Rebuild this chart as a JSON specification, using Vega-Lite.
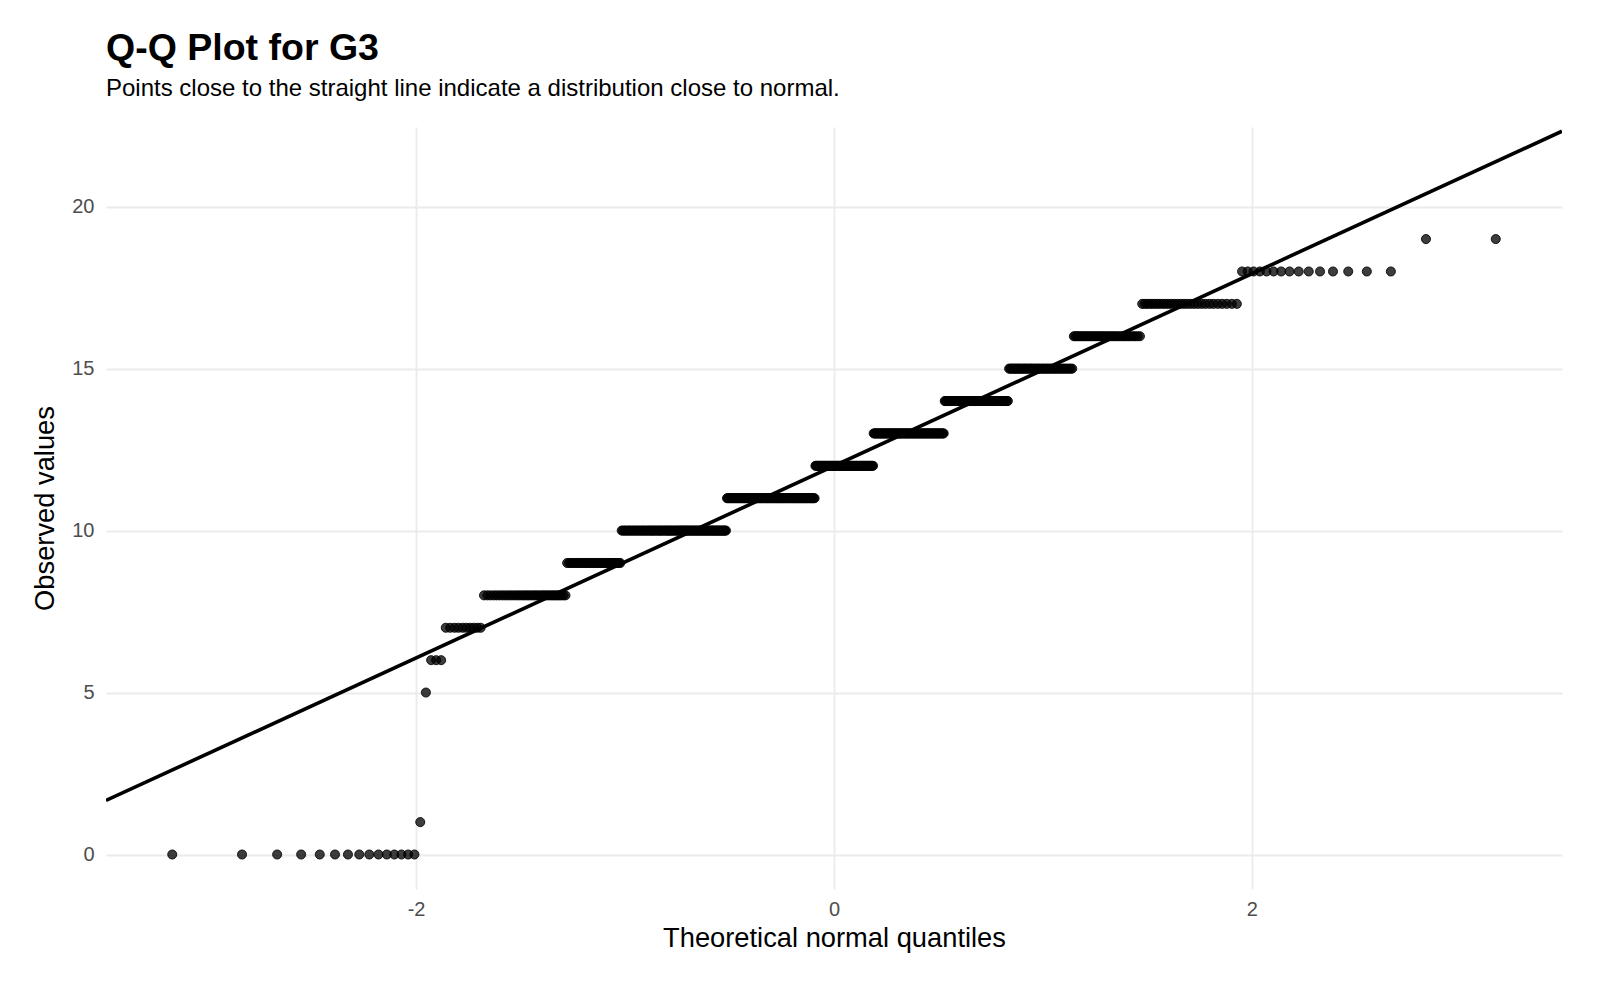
{
  "$schema": "https://vega.github.io/schema/vega-lite/v6.json",
  "width": 1456,
  "height": 762,
  "autosize": {"type": "none"},
  "padding": {"left": 106, "top": 127, "right": 38, "bottom": 95},
  "background": "#ffffff",
  "title": {
    "text": "Q-Q Plot for G3",
    "subtitle": "Points close to the straight line indicate a distribution close to normal.",
    "anchor": "start",
    "frame": "group",
    "font": "Liberation Sans",
    "fontSize": 37.5,
    "fontWeight": "bold",
    "color": "#000000",
    "subtitleFont": "Liberation Sans",
    "subtitleFontSize": 24,
    "subtitleColor": "#000000",
    "subtitlePadding": 10,
    "offset": 26
  },
  "config": {
    "view": {"stroke": null},
    "axis": {
      "grid": true,
      "gridColor": "#EBEBEB",
      "gridWidth": 1.8,
      "domain": false,
      "ticks": false,
      "labelFont": "Liberation Sans",
      "labelFontSize": 20,
      "labelColor": "#4D4D4D",
      "titleFont": "Liberation Sans",
      "titleFontSize": 27.3,
      "titleFontWeight": "normal",
      "titleColor": "#000000"
    }
  },
  "datasets": {
    "qq": [
      {"q":-3.167,"G3":0},{"q":-2.833,"G3":0},{"q":-2.665,"G3":0},{"q":-2.550,"G3":0},{"q":-2.461,"G3":0},
      {"q":-2.388,"G3":0},{"q":-2.326,"G3":0},{"q":-2.272,"G3":0},{"q":-2.224,"G3":0},{"q":-2.180,"G3":0},
      {"q":-2.140,"G3":0},{"q":-2.104,"G3":0},{"q":-2.070,"G3":0},{"q":-2.038,"G3":0},{"q":-2.008,"G3":0},
      {"q":-1.980,"G3":1},
      {"q":-1.953,"G3":5},
      {"q":-1.928,"G3":6},{"q":-1.904,"G3":6},{"q":-1.880,"G3":6},
      {"q":-1.858,"G3":7},{"q":-1.837,"G3":7},{"q":-1.816,"G3":7},{"q":-1.797,"G3":7},{"q":-1.777,"G3":7},
      {"q":-1.759,"G3":7},{"q":-1.741,"G3":7},{"q":-1.724,"G3":7},{"q":-1.707,"G3":7},{"q":-1.691,"G3":7},
      {"q":-1.675,"G3":8},{"q":-1.659,"G3":8},{"q":-1.644,"G3":8},{"q":-1.629,"G3":8},{"q":-1.615,"G3":8},
      {"q":-1.601,"G3":8},{"q":-1.587,"G3":8},{"q":-1.574,"G3":8},{"q":-1.560,"G3":8},{"q":-1.548,"G3":8},
      {"q":-1.535,"G3":8},{"q":-1.522,"G3":8},{"q":-1.510,"G3":8},{"q":-1.498,"G3":8},{"q":-1.486,"G3":8},
      {"q":-1.475,"G3":8},{"q":-1.464,"G3":8},{"q":-1.453,"G3":8},{"q":-1.442,"G3":8},{"q":-1.432,"G3":8},
      {"q":-1.421,"G3":8},{"q":-1.410,"G3":8},{"q":-1.399,"G3":8},{"q":-1.390,"G3":8},{"q":-1.380,"G3":8},
      {"q":-1.370,"G3":8},{"q":-1.360,"G3":8},{"q":-1.350,"G3":8},{"q":-1.340,"G3":8},{"q":-1.331,"G3":8},
      {"q":-1.322,"G3":8},{"q":-1.313,"G3":8},{"q":-1.304,"G3":8},{"q":-1.294,"G3":8},{"q":-1.285,"G3":8},
      {"q":-1.277,"G3":9},{"q":-1.268,"G3":9},{"q":-1.260,"G3":9},{"q":-1.251,"G3":9},{"q":-1.243,"G3":9},
      {"q":-1.234,"G3":9},{"q":-1.226,"G3":9},{"q":-1.218,"G3":9},{"q":-1.210,"G3":9},{"q":-1.202,"G3":9},
      {"q":-1.194,"G3":9},{"q":-1.186,"G3":9},{"q":-1.178,"G3":9},{"q":-1.170,"G3":9},{"q":-1.163,"G3":9},
      {"q":-1.155,"G3":9},{"q":-1.148,"G3":9},{"q":-1.140,"G3":9},{"q":-1.133,"G3":9},{"q":-1.126,"G3":9},
      {"q":-1.118,"G3":9},{"q":-1.111,"G3":9},{"q":-1.104,"G3":9},{"q":-1.097,"G3":9},{"q":-1.090,"G3":9},
      {"q":-1.083,"G3":9},{"q":-1.076,"G3":9},{"q":-1.069,"G3":9},{"q":-1.062,"G3":9},{"q":-1.056,"G3":9},
      {"q":-1.049,"G3":9},{"q":-1.042,"G3":9},{"q":-1.035,"G3":9},{"q":-1.029,"G3":9},{"q":-1.023,"G3":9},
      {"q":-1.016,"G3":10},{"q":-1.010,"G3":10},{"q":-1.003,"G3":10},{"q":-0.997,"G3":10},{"q":-0.990,"G3":10},
      {"q":-0.984,"G3":10},{"q":-0.978,"G3":10},{"q":-0.972,"G3":10},{"q":-0.966,"G3":10},{"q":-0.959,"G3":10},
      {"q":-0.953,"G3":10},{"q":-0.947,"G3":10},{"q":-0.941,"G3":10},{"q":-0.935,"G3":10},{"q":-0.929,"G3":10},
      {"q":-0.923,"G3":10},{"q":-0.917,"G3":10},{"q":-0.912,"G3":10},{"q":-0.906,"G3":10},{"q":-0.900,"G3":10},
      {"q":-0.894,"G3":10},{"q":-0.888,"G3":10},{"q":-0.883,"G3":10},{"q":-0.877,"G3":10},{"q":-0.871,"G3":10},
      {"q":-0.866,"G3":10},{"q":-0.860,"G3":10},{"q":-0.855,"G3":10},{"q":-0.849,"G3":10},{"q":-0.843,"G3":10},
      {"q":-0.838,"G3":10},{"q":-0.832,"G3":10},{"q":-0.827,"G3":10},{"q":-0.822,"G3":10},{"q":-0.816,"G3":10},
      {"q":-0.811,"G3":10},{"q":-0.805,"G3":10},{"q":-0.800,"G3":10},{"q":-0.795,"G3":10},{"q":-0.790,"G3":10},
      {"q":-0.784,"G3":10},{"q":-0.779,"G3":10},{"q":-0.774,"G3":10},{"q":-0.769,"G3":10},{"q":-0.763,"G3":10},
      {"q":-0.758,"G3":10},{"q":-0.753,"G3":10},{"q":-0.748,"G3":10},{"q":-0.743,"G3":10},{"q":-0.738,"G3":10},
      {"q":-0.733,"G3":10},{"q":-0.728,"G3":10},{"q":-0.723,"G3":10},{"q":-0.718,"G3":10},{"q":-0.713,"G3":10},
      {"q":-0.708,"G3":10},{"q":-0.703,"G3":10},{"q":-0.698,"G3":10},{"q":-0.693,"G3":10},{"q":-0.688,"G3":10},
      {"q":-0.683,"G3":10},{"q":-0.678,"G3":10},{"q":-0.673,"G3":10},{"q":-0.669,"G3":10},{"q":-0.664,"G3":10},
      {"q":-0.659,"G3":10},{"q":-0.654,"G3":10},{"q":-0.649,"G3":10},{"q":-0.645,"G3":10},{"q":-0.640,"G3":10},
      {"q":-0.635,"G3":10},{"q":-0.630,"G3":10},{"q":-0.626,"G3":10},{"q":-0.621,"G3":10},{"q":-0.616,"G3":10},
      {"q":-0.612,"G3":10},{"q":-0.607,"G3":10},{"q":-0.602,"G3":10},{"q":-0.598,"G3":10},{"q":-0.593,"G3":10},
      {"q":-0.588,"G3":10},{"q":-0.584,"G3":10},{"q":-0.579,"G3":10},{"q":-0.575,"G3":10},{"q":-0.570,"G3":10},
      {"q":-0.566,"G3":10},{"q":-0.561,"G3":10},{"q":-0.557,"G3":10},{"q":-0.552,"G3":10},{"q":-0.548,"G3":10},
      {"q":-0.543,"G3":10},{"q":-0.539,"G3":10},{"q":-0.534,"G3":10},{"q":-0.530,"G3":10},{"q":-0.525,"G3":10},
      {"q":-0.521,"G3":10},{"q":-0.517,"G3":10},
      {"q":-0.512,"G3":11},{"q":-0.508,"G3":11},{"q":-0.503,"G3":11},{"q":-0.499,"G3":11},{"q":-0.495,"G3":11},
      {"q":-0.490,"G3":11},{"q":-0.486,"G3":11},{"q":-0.482,"G3":11},{"q":-0.477,"G3":11},{"q":-0.473,"G3":11},
      {"q":-0.469,"G3":11},{"q":-0.464,"G3":11},{"q":-0.460,"G3":11},{"q":-0.456,"G3":11},{"q":-0.451,"G3":11},
      {"q":-0.447,"G3":11},{"q":-0.443,"G3":11},{"q":-0.439,"G3":11},{"q":-0.434,"G3":11},{"q":-0.430,"G3":11},
      {"q":-0.426,"G3":11},{"q":-0.422,"G3":11},{"q":-0.417,"G3":11},{"q":-0.413,"G3":11},{"q":-0.409,"G3":11},
      {"q":-0.405,"G3":11},{"q":-0.401,"G3":11},{"q":-0.396,"G3":11},{"q":-0.392,"G3":11},{"q":-0.388,"G3":11},
      {"q":-0.384,"G3":11},{"q":-0.380,"G3":11},{"q":-0.376,"G3":11},{"q":-0.372,"G3":11},{"q":-0.367,"G3":11},
      {"q":-0.363,"G3":11},{"q":-0.359,"G3":11},{"q":-0.355,"G3":11},{"q":-0.351,"G3":11},{"q":-0.347,"G3":11},
      {"q":-0.343,"G3":11},{"q":-0.339,"G3":11},{"q":-0.335,"G3":11},{"q":-0.330,"G3":11},{"q":-0.326,"G3":11},
      {"q":-0.322,"G3":11},{"q":-0.318,"G3":11},{"q":-0.314,"G3":11},{"q":-0.310,"G3":11},{"q":-0.306,"G3":11},
      {"q":-0.302,"G3":11},{"q":-0.298,"G3":11},{"q":-0.294,"G3":11},{"q":-0.290,"G3":11},{"q":-0.286,"G3":11},
      {"q":-0.282,"G3":11},{"q":-0.278,"G3":11},{"q":-0.274,"G3":11},{"q":-0.270,"G3":11},{"q":-0.266,"G3":11},
      {"q":-0.262,"G3":11},{"q":-0.258,"G3":11},{"q":-0.254,"G3":11},{"q":-0.250,"G3":11},{"q":-0.246,"G3":11},
      {"q":-0.242,"G3":11},{"q":-0.238,"G3":11},{"q":-0.234,"G3":11},{"q":-0.230,"G3":11},{"q":-0.226,"G3":11},
      {"q":-0.222,"G3":11},{"q":-0.218,"G3":11},{"q":-0.214,"G3":11},{"q":-0.210,"G3":11},{"q":-0.206,"G3":11},
      {"q":-0.202,"G3":11},{"q":-0.198,"G3":11},{"q":-0.194,"G3":11},{"q":-0.190,"G3":11},{"q":-0.187,"G3":11},
      {"q":-0.183,"G3":11},{"q":-0.179,"G3":11},{"q":-0.175,"G3":11},{"q":-0.171,"G3":11},{"q":-0.167,"G3":11},
      {"q":-0.163,"G3":11},{"q":-0.159,"G3":11},{"q":-0.155,"G3":11},{"q":-0.151,"G3":11},{"q":-0.147,"G3":11},
      {"q":-0.143,"G3":11},{"q":-0.140,"G3":11},{"q":-0.136,"G3":11},{"q":-0.132,"G3":11},{"q":-0.128,"G3":11},
      {"q":-0.124,"G3":11},{"q":-0.120,"G3":11},{"q":-0.116,"G3":11},{"q":-0.112,"G3":11},{"q":-0.108,"G3":11},
      {"q":-0.105,"G3":11},{"q":-0.101,"G3":11},{"q":-0.097,"G3":11},{"q":-0.093,"G3":11},
      {"q":-0.089,"G3":12},{"q":-0.085,"G3":12},{"q":-0.081,"G3":12},{"q":-0.077,"G3":12},{"q":-0.074,"G3":12},
      {"q":-0.070,"G3":12},{"q":-0.066,"G3":12},{"q":-0.062,"G3":12},{"q":-0.058,"G3":12},{"q":-0.054,"G3":12},
      {"q":-0.050,"G3":12},{"q":-0.046,"G3":12},{"q":-0.043,"G3":12},{"q":-0.039,"G3":12},{"q":-0.035,"G3":12},
      {"q":-0.031,"G3":12},{"q":-0.027,"G3":12},{"q":-0.023,"G3":12},{"q":-0.019,"G3":12},{"q":-0.016,"G3":12},
      {"q":-0.012,"G3":12},{"q":-0.008,"G3":12},{"q":-0.004,"G3":12},{"q":0,"G3":12},
      {"q":0.004,"G3":12},{"q":0.008,"G3":12},{"q":0.012,"G3":12},{"q":0.016,"G3":12},{"q":0.019,"G3":12},
      {"q":0.023,"G3":12},{"q":0.027,"G3":12},{"q":0.031,"G3":12},{"q":0.035,"G3":12},{"q":0.039,"G3":12},
      {"q":0.043,"G3":12},{"q":0.046,"G3":12},{"q":0.050,"G3":12},{"q":0.054,"G3":12},{"q":0.058,"G3":12},
      {"q":0.062,"G3":12},{"q":0.066,"G3":12},{"q":0.070,"G3":12},{"q":0.074,"G3":12},{"q":0.077,"G3":12},
      {"q":0.081,"G3":12},{"q":0.085,"G3":12},{"q":0.089,"G3":12},{"q":0.093,"G3":12},{"q":0.097,"G3":12},
      {"q":0.101,"G3":12},{"q":0.105,"G3":12},{"q":0.108,"G3":12},{"q":0.112,"G3":12},{"q":0.116,"G3":12},
      {"q":0.120,"G3":12},{"q":0.124,"G3":12},{"q":0.128,"G3":12},{"q":0.132,"G3":12},{"q":0.136,"G3":12},
      {"q":0.140,"G3":12},{"q":0.143,"G3":12},{"q":0.147,"G3":12},{"q":0.151,"G3":12},{"q":0.155,"G3":12},
      {"q":0.159,"G3":12},{"q":0.163,"G3":12},{"q":0.167,"G3":12},{"q":0.171,"G3":12},{"q":0.175,"G3":12},
      {"q":0.179,"G3":12},{"q":0.183,"G3":12},{"q":0.187,"G3":12},
      {"q":0.190,"G3":13},{"q":0.194,"G3":13},{"q":0.198,"G3":13},{"q":0.202,"G3":13},{"q":0.206,"G3":13},
      {"q":0.210,"G3":13},{"q":0.214,"G3":13},{"q":0.218,"G3":13},{"q":0.222,"G3":13},{"q":0.226,"G3":13},
      {"q":0.230,"G3":13},{"q":0.234,"G3":13},{"q":0.238,"G3":13},{"q":0.242,"G3":13},{"q":0.246,"G3":13},
      {"q":0.250,"G3":13},{"q":0.254,"G3":13},{"q":0.258,"G3":13},{"q":0.262,"G3":13},{"q":0.266,"G3":13},
      {"q":0.270,"G3":13},{"q":0.274,"G3":13},{"q":0.278,"G3":13},{"q":0.282,"G3":13},{"q":0.286,"G3":13},
      {"q":0.290,"G3":13},{"q":0.294,"G3":13},{"q":0.298,"G3":13},{"q":0.302,"G3":13},{"q":0.306,"G3":13},
      {"q":0.310,"G3":13},{"q":0.314,"G3":13},{"q":0.318,"G3":13},{"q":0.322,"G3":13},{"q":0.326,"G3":13},
      {"q":0.330,"G3":13},{"q":0.335,"G3":13},{"q":0.339,"G3":13},{"q":0.343,"G3":13},{"q":0.347,"G3":13},
      {"q":0.351,"G3":13},{"q":0.355,"G3":13},{"q":0.359,"G3":13},{"q":0.363,"G3":13},{"q":0.367,"G3":13},
      {"q":0.372,"G3":13},{"q":0.376,"G3":13},{"q":0.380,"G3":13},{"q":0.384,"G3":13},{"q":0.388,"G3":13},
      {"q":0.392,"G3":13},{"q":0.396,"G3":13},{"q":0.401,"G3":13},{"q":0.405,"G3":13},{"q":0.409,"G3":13},
      {"q":0.413,"G3":13},{"q":0.417,"G3":13},{"q":0.422,"G3":13},{"q":0.426,"G3":13},{"q":0.430,"G3":13},
      {"q":0.434,"G3":13},{"q":0.439,"G3":13},{"q":0.443,"G3":13},{"q":0.447,"G3":13},{"q":0.451,"G3":13},
      {"q":0.456,"G3":13},{"q":0.460,"G3":13},{"q":0.464,"G3":13},{"q":0.469,"G3":13},{"q":0.473,"G3":13},
      {"q":0.477,"G3":13},{"q":0.482,"G3":13},{"q":0.486,"G3":13},{"q":0.490,"G3":13},{"q":0.495,"G3":13},
      {"q":0.499,"G3":13},{"q":0.503,"G3":13},{"q":0.508,"G3":13},{"q":0.512,"G3":13},{"q":0.517,"G3":13},
      {"q":0.521,"G3":13},{"q":0.525,"G3":13},
      {"q":0.530,"G3":14},{"q":0.534,"G3":14},{"q":0.539,"G3":14},{"q":0.543,"G3":14},{"q":0.548,"G3":14},
      {"q":0.552,"G3":14},{"q":0.557,"G3":14},{"q":0.561,"G3":14},{"q":0.566,"G3":14},{"q":0.570,"G3":14},
      {"q":0.575,"G3":14},{"q":0.579,"G3":14},{"q":0.584,"G3":14},{"q":0.588,"G3":14},{"q":0.593,"G3":14},
      {"q":0.598,"G3":14},{"q":0.602,"G3":14},{"q":0.607,"G3":14},{"q":0.612,"G3":14},{"q":0.616,"G3":14},
      {"q":0.621,"G3":14},{"q":0.626,"G3":14},{"q":0.630,"G3":14},{"q":0.635,"G3":14},{"q":0.640,"G3":14},
      {"q":0.645,"G3":14},{"q":0.649,"G3":14},{"q":0.654,"G3":14},{"q":0.659,"G3":14},{"q":0.664,"G3":14},
      {"q":0.669,"G3":14},{"q":0.673,"G3":14},{"q":0.678,"G3":14},{"q":0.683,"G3":14},{"q":0.688,"G3":14},
      {"q":0.693,"G3":14},{"q":0.698,"G3":14},{"q":0.703,"G3":14},{"q":0.708,"G3":14},{"q":0.713,"G3":14},
      {"q":0.718,"G3":14},{"q":0.723,"G3":14},{"q":0.728,"G3":14},{"q":0.733,"G3":14},{"q":0.738,"G3":14},
      {"q":0.743,"G3":14},{"q":0.748,"G3":14},{"q":0.753,"G3":14},{"q":0.758,"G3":14},{"q":0.763,"G3":14},
      {"q":0.769,"G3":14},{"q":0.774,"G3":14},{"q":0.779,"G3":14},{"q":0.784,"G3":14},{"q":0.790,"G3":14},
      {"q":0.795,"G3":14},{"q":0.800,"G3":14},{"q":0.805,"G3":14},{"q":0.811,"G3":14},{"q":0.816,"G3":14},
      {"q":0.822,"G3":14},{"q":0.827,"G3":14},{"q":0.832,"G3":14},
      {"q":0.838,"G3":15},{"q":0.843,"G3":15},{"q":0.849,"G3":15},{"q":0.855,"G3":15},{"q":0.860,"G3":15},
      {"q":0.866,"G3":15},{"q":0.871,"G3":15},{"q":0.877,"G3":15},{"q":0.883,"G3":15},{"q":0.888,"G3":15},
      {"q":0.894,"G3":15},{"q":0.900,"G3":15},{"q":0.906,"G3":15},{"q":0.912,"G3":15},{"q":0.917,"G3":15},
      {"q":0.923,"G3":15},{"q":0.929,"G3":15},{"q":0.935,"G3":15},{"q":0.941,"G3":15},{"q":0.947,"G3":15},
      {"q":0.953,"G3":15},{"q":0.959,"G3":15},{"q":0.966,"G3":15},{"q":0.972,"G3":15},{"q":0.978,"G3":15},
      {"q":0.984,"G3":15},{"q":0.990,"G3":15},{"q":0.997,"G3":15},{"q":1.003,"G3":15},{"q":1.010,"G3":15},
      {"q":1.016,"G3":15},{"q":1.023,"G3":15},{"q":1.029,"G3":15},{"q":1.035,"G3":15},{"q":1.042,"G3":15},
      {"q":1.049,"G3":15},{"q":1.056,"G3":15},{"q":1.062,"G3":15},{"q":1.069,"G3":15},{"q":1.076,"G3":15},
      {"q":1.083,"G3":15},{"q":1.090,"G3":15},{"q":1.097,"G3":15},{"q":1.104,"G3":15},{"q":1.111,"G3":15},
      {"q":1.118,"G3":15},{"q":1.126,"G3":15},{"q":1.133,"G3":15},{"q":1.140,"G3":15},
      {"q":1.148,"G3":16},{"q":1.155,"G3":16},{"q":1.163,"G3":16},{"q":1.170,"G3":16},{"q":1.178,"G3":16},
      {"q":1.186,"G3":16},{"q":1.194,"G3":16},{"q":1.202,"G3":16},{"q":1.210,"G3":16},{"q":1.218,"G3":16},
      {"q":1.226,"G3":16},{"q":1.234,"G3":16},{"q":1.243,"G3":16},{"q":1.251,"G3":16},{"q":1.260,"G3":16},
      {"q":1.268,"G3":16},{"q":1.277,"G3":16},{"q":1.285,"G3":16},{"q":1.294,"G3":16},{"q":1.304,"G3":16},
      {"q":1.313,"G3":16},{"q":1.322,"G3":16},{"q":1.331,"G3":16},{"q":1.340,"G3":16},{"q":1.350,"G3":16},
      {"q":1.360,"G3":16},{"q":1.370,"G3":16},{"q":1.380,"G3":16},{"q":1.390,"G3":16},{"q":1.399,"G3":16},
      {"q":1.410,"G3":16},{"q":1.421,"G3":16},{"q":1.432,"G3":16},{"q":1.442,"G3":16},{"q":1.453,"G3":16},
      {"q":1.464,"G3":16},
      {"q":1.475,"G3":17},{"q":1.486,"G3":17},{"q":1.498,"G3":17},{"q":1.510,"G3":17},{"q":1.522,"G3":17},
      {"q":1.535,"G3":17},{"q":1.548,"G3":17},{"q":1.560,"G3":17},{"q":1.574,"G3":17},{"q":1.587,"G3":17},
      {"q":1.601,"G3":17},{"q":1.615,"G3":17},{"q":1.629,"G3":17},{"q":1.644,"G3":17},{"q":1.659,"G3":17},
      {"q":1.675,"G3":17},{"q":1.691,"G3":17},{"q":1.707,"G3":17},{"q":1.724,"G3":17},{"q":1.741,"G3":17},
      {"q":1.759,"G3":17},{"q":1.777,"G3":17},{"q":1.797,"G3":17},{"q":1.816,"G3":17},{"q":1.837,"G3":17},
      {"q":1.858,"G3":17},{"q":1.880,"G3":17},{"q":1.904,"G3":17},{"q":1.928,"G3":17},
      {"q":1.953,"G3":18},{"q":1.980,"G3":18},{"q":2.008,"G3":18},{"q":2.038,"G3":18},{"q":2.070,"G3":18},
      {"q":2.104,"G3":18},{"q":2.140,"G3":18},{"q":2.180,"G3":18},{"q":2.224,"G3":18},{"q":2.272,"G3":18},
      {"q":2.326,"G3":18},{"q":2.388,"G3":18},{"q":2.461,"G3":18},{"q":2.550,"G3":18},{"q":2.665,"G3":18},
      {"q":2.833,"G3":19},{"q":3.167,"G3":19}
    ],
    "refline": [
      {"q":-3.484,"G3":1.669},
      {"q":3.484,"G3":22.331}
    ]
  },
  "layer": [
    {
      "data": {"name": "qq"},
      "mark": {
        "type": "point",
        "filled": true,
        "shape": "circle",
        "size": 82,
        "fill": "#000000",
        "fillOpacity": 0.76,
        "stroke": "#000000",
        "strokeOpacity": 0.85,
        "strokeWidth": 1
      },
      "encoding": {
        "x": {
          "field": "q",
          "type": "quantitative",
          "scale": {"domain": [-3.484, 3.484], "nice": false, "zero": false},
          "axis": {"values": [-2, 0, 2], "labelExpr": "'' + datum.value", "title": "Theoretical normal quantiles", "labelPadding": 10, "titlePadding": 5}
        },
        "y": {
          "field": "G3",
          "type": "quantitative",
          "scale": {"domain": [-1.065, 22.46], "nice": false, "zero": false},
          "axis": {"values": [0, 5, 10, 15, 20], "labelExpr": "'' + datum.value", "title": "Observed values", "labelPadding": 12, "titlePadding": 12}
        }
      }
    },
    {
      "data": {"name": "refline"},
      "mark": {"type": "line", "color": "#000000", "strokeWidth": 3.6, "clip": true},
      "encoding": {
        "x": {"field": "q", "type": "quantitative"},
        "y": {"field": "G3", "type": "quantitative"}
      }
    }
  ]
}
